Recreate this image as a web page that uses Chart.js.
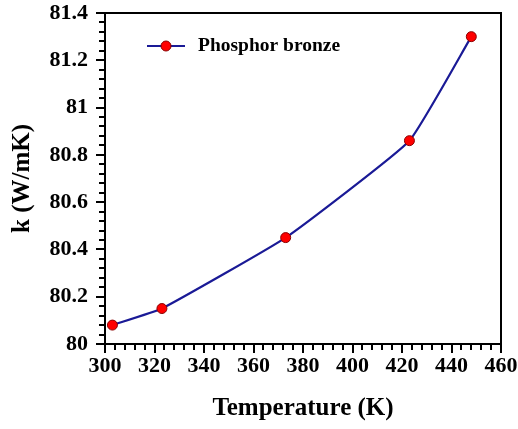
<!DOCTYPE html>
<html>
<head>
<meta charset="utf-8">
<script src="https://cdn.jsdelivr.net/npm/chart.js@4.4.1/dist/chart.umd.min.js"></script>
<style>
  html, body { margin: 0; padding: 0; background: #fff; }
  #wrap { width: 518px; height: 429px; }
</style>
</head>
<body>
<div id="wrap"><canvas id="kChart" width="518" height="429"></canvas></div>
<script>
/****************************** data ********************************/
const temps = [303, 323, 373, 423, 448];
const kValues = [80.08, 80.15, 80.45, 80.86, 81.30];
const xTickLabels = [300, 320, 340, 360, 380, 400, 420, 440, 460];
const yTickLabels = [80, 80.2, 80.4, 80.6, 80.8, 81, 81.2, 81.4];
const seriesName = "Phosphor bronze";

const FONT = "'Liberation Serif', 'Times New Roman', serif";
const LINE_COLOR = "#1a1a96";
const MARK_FILL = "#ff0000";
const MARK_EDGE = "#8a0000";

/****************************** box, ticks and legend ********************************/
// ticks point outward, 4 minor ticks between labelled ones
const framePlugin = {
    id: "frame",
    afterDraw(chart) {
        const ctx = chart.ctx;
        const a = chart.chartArea;
        const xs = chart.scales.x;
        const ys = chart.scales.y;
        ctx.save();
        ctx.strokeStyle = "#000";
        ctx.lineWidth = 2;
        ctx.strokeRect(a.left, a.top, a.right - a.left, a.bottom - a.top);

        ctx.beginPath();
        for (let i = 0; i < xTickLabels.length; i++) {
            const px = Math.round(xs.getPixelForValue(xTickLabels[i]));
            ctx.moveTo(px, a.bottom);
            ctx.lineTo(px, a.bottom + 9);
            if (i < xTickLabels.length - 1) {
                const step = (xTickLabels[i + 1] - xTickLabels[i]) / 5;
                for (let j = 1; j < 5; j++) {
                    const mx = Math.round(xs.getPixelForValue(xTickLabels[i] + step * j));
                    ctx.moveTo(mx, a.bottom);
                    ctx.lineTo(mx, a.bottom + 6);
                }
            }
        }
        for (let i = 0; i < yTickLabels.length; i++) {
            const py = Math.round(ys.getPixelForValue(yTickLabels[i]));
            ctx.moveTo(a.left, py);
            ctx.lineTo(a.left - 9, py);
            if (i < yTickLabels.length - 1) {
                const step = (yTickLabels[i + 1] - yTickLabels[i]) / 5;
                for (let j = 1; j < 5; j++) {
                    const my = Math.round(ys.getPixelForValue(yTickLabels[i] + step * j));
                    ctx.moveTo(a.left, my);
                    ctx.lineTo(a.left - 6, my);
                }
            }
        }
        ctx.stroke();

        // legend inside the plot, top left
        const lx = a.left + 42, ly = a.top + 33;
        ctx.strokeStyle = LINE_COLOR;
        ctx.lineWidth = 2;
        ctx.beginPath();
        ctx.moveTo(lx, ly);
        ctx.lineTo(lx + 38, ly);
        ctx.stroke();
        ctx.beginPath();
        ctx.arc(lx + 19, ly, 5, 0, Math.PI * 2);
        ctx.fillStyle = MARK_FILL;
        ctx.fill();
        ctx.strokeStyle = MARK_EDGE;
        ctx.lineWidth = 1;
        ctx.stroke();
        ctx.fillStyle = "#000";
        ctx.font = "bold 19.5px " + FONT;
        ctx.textBaseline = "middle";
        ctx.fillText(seriesName, lx + 51, ly);
        ctx.restore();
    }
};

/****************************** chart ********************************/
new Chart("kChart", {
    type: "line",
    data: {
        datasets: [{
            label: seriesName,
            data: temps.map((t, i) => ({ x: t, y: kValues[i] })),
            borderColor: LINE_COLOR,
            borderWidth: 2.2,
            tension: 0.12,
            pointRadius: 5,
            pointBackgroundColor: MARK_FILL,
            pointBorderColor: MARK_EDGE,
            pointBorderWidth: 1,
            clip: false
        }]
    },
    options: {
        responsive: false,
        animation: false,
        layout: { padding: { top: 13, right: 17, left: 0, bottom: 0 } },
        plugins: {
            legend: { display: false },
            tooltip: { enabled: false }
        },
        scales: {
            x: {
                type: "linear",
                min: 300,
                max: 460,
                afterBuildTicks: s => { s.ticks = xTickLabels.map(v => ({ value: v })); },
                afterFit: s => { s.height = 85; s.paddingLeft = 0; s.paddingRight = 0; },
                grid: { display: false, drawTicks: false },
                border: { display: true, color: "#000", width: 2 },
                ticks: {
                    color: "#000",
                    padding: 9,
                    maxRotation: 0,
                    autoSkip: false,
                    font: { family: FONT, size: 22, weight: "bold" }
                },
                title: {
                    display: true,
                    text: "Temperature (K)",
                    color: "#000",
                    padding: { top: 0, bottom: 8 },
                    font: { family: FONT, size: 25, weight: "bold", lineHeight: 1 }
                }
            },
            y: {
                min: 80,
                max: 81.4,
                afterBuildTicks: s => { s.ticks = yTickLabels.map(v => ({ value: v })); },
                afterFit: s => { s.width = 105; s.paddingTop = 0; s.paddingBottom = 0; },
                grid: { display: false, drawTicks: false },
                border: { display: true, color: "#000", width: 2 },
                ticks: {
                    color: "#000",
                    padding: 17,
                    autoSkip: false,
                    callback: v => String(+v.toFixed(1)),
                    font: { family: FONT, size: 22, weight: "bold" }
                },
                title: {
                    display: true,
                    text: "k (W/mK)",
                    color: "#000",
                    padding: { top: 10, bottom: 0 },
                    font: { family: FONT, size: 25, weight: "bold", lineHeight: 1 }
                }
            }
        }
    },
    plugins: [framePlugin]
});
</script>
</body>
</html>
